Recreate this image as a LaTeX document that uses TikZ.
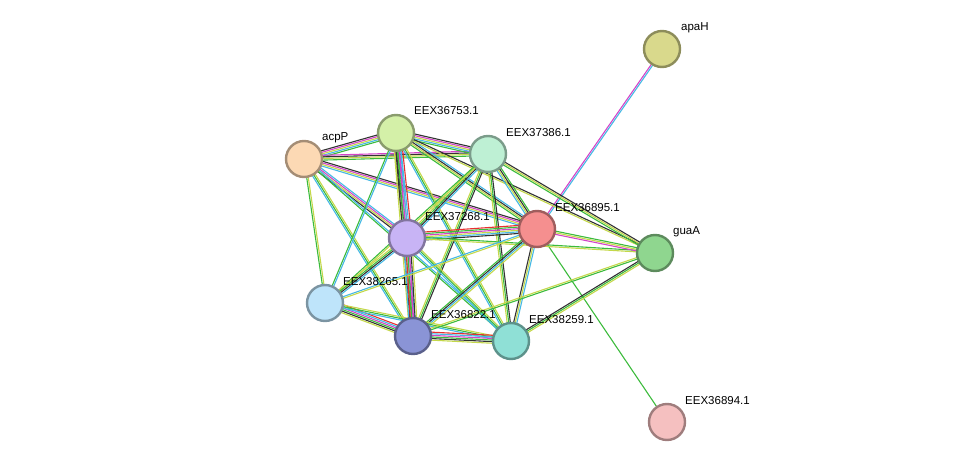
\documentclass[tikz,border=0pt]{standalone}
\usepackage{fontspec}
\setmainfont{Liberation Sans}
\usetikzlibrary{calc,backgrounds}
\definecolor{tm}{HTML}{C4D84A}
\definecolor{db}{HTML}{45B8E4}
\definecolor{ex}{HTML}{D444C8}
\definecolor{co}{HTML}{333333}
\definecolor{nb}{HTML}{3CBB3C}
\definecolor{gf}{HTML}{E83030}
\definecolor{cApaH}{HTML}{D9D98C}
\definecolor{c36753}{HTML}{D4F0A8}
\definecolor{cAcpP}{HTML}{FCD9B4}
\definecolor{c37386}{HTML}{BEF0D4}
\definecolor{c36895}{HTML}{F58F8F}
\definecolor{cGuaA}{HTML}{8FD68F}
\definecolor{c37268}{HTML}{C8B4F5}
\definecolor{c38265}{HTML}{BEE4FA}
\definecolor{c36822}{HTML}{8A94D6}
\definecolor{c38259}{HTML}{8FE0D6}
\definecolor{c36894}{HTML}{F5C0C0}
\tikzset{
  prot/.style={circle, minimum size=36pt, inner sep=0pt, line width=2.4pt, fill=#1, draw=#1!65!black},
  lbl/.style={font=\fontsize{11.5}{13}\selectfont, anchor=west, inner sep=0pt},
  link/.style={line width=1.1pt}
}
\begin{document}
\begin{tikzpicture}[x=1pt,y=-1pt]
  \useasboundingbox (0,0) rectangle (975,468);
  % proteins
  \node[prot=cApaH] (apaH) at (662,49) {};
  \node[prot=c36753] (n36753) at (396,133) {};
  \node[prot=cAcpP] (acpP) at (304,159) {};
  \node[prot=c37386] (n37386) at (488,154) {};
  \node[prot=c36895] (n36895) at (537,229) {};
  \node[prot=cGuaA] (guaA) at (655,253) {};
  \node[prot=c37268] (n37268) at (407,238) {};
  \node[prot=c38265] (n38265) at (325,303) {};
  \node[prot=c36822] (n36822) at (413,336) {};
  \node[prot=c38259] (n38259) at (511,341) {};
  \node[prot=c36894] (n36894) at (667,422) {};
  % labels
  \node[lbl] at (681,28) {apaH};
  \node[lbl] at (414,111) {EEX36753.1};
  \node[lbl] at (322,138) {acpP};
  \node[lbl] at (506,133) {EEX37386.1};
  \node[lbl] at (555,208) {EEX36895.1};
  \node[lbl] at (673,232) {guaA};
  \node[lbl] at (425,217) {EEX37268.1};
  \node[lbl] at (343,282) {EEX38265.1};
  \node[lbl] at (431,315) {EEX36822.1};
  \node[lbl] at (529,320) {EEX38259.1};
  \node[lbl] at (685,401) {EEX36894.1};
  % evidence links
  \begin{pgfonlayer}{background}
  \foreach \a/\b/\cols in {
      apaH/n36895/{ex,db}, n36895/n36894/{nb},
      acpP/n36753/{tm,ex,db,co,nb}, acpP/n37386/{tm,co,nb,ex},
      acpP/n36895/{tm,ex,db,co}, acpP/n37268/{tm,ex,co,db},
      acpP/n36822/{nb,tm,db}, acpP/n38265/{nb,tm}, acpP/n38259/{nb,db},
      n36753/n37386/{tm,ex,db,co,nb}, n36753/n37268/{nb,ex,co,db,tm,gf},
      n36753/n36895/{tm,co,nb,db}, n36753/n36822/{nb,ex,co,db,tm},
      n36753/n38265/{nb,db}, n36753/n38259/{nb,tm,db}, n36753/guaA/{tm,co},
      n37386/n37268/{nb,co,tm,db}, n37386/n36895/{tm,co,db,nb},
      n37386/n36822/{nb,co,tm}, n37386/n38265/{nb,tm},
      n37386/n38259/{nb,co,tm}, n37386/guaA/{tm,co,nb},
      n37268/n36895/{tm,ex,db,nb,co,gf}, n37268/n36822/{nb,ex,gf,co,db,tm},
      n37268/n38265/{nb,co,tm,db}, n37268/n38259/{nb,tm,db}, n37268/guaA/{tm,nb},
      n36895/n36822/{co,db,nb,tm}, n36895/n38259/{tm,db,co},
      n36895/n38265/{db,tm}, n36895/guaA/{tm,nb,ex},
      n38265/n36822/{nb,ex,co,db,tm,gf}, n38265/n38259/{nb,tm,db},
      n36822/n38259/{nb,ex,co,db,tm,gf}, n36822/guaA/{nb,tm},
      n38259/guaA/{nb,co,tm}}{
    \foreach \c [count=\i] in \cols {
      \pgfmathsetmacro\o{(mod(\i,2)==0 ? 1 : -1)*int(\i/2)*1.6}
      \draw[link,\c] ($(\a)!\o pt!90:(\b)$) -- ($(\b)!\o pt!-90:(\a)$);
    }
  }
  \end{pgfonlayer}
\end{tikzpicture}
\end{document}
